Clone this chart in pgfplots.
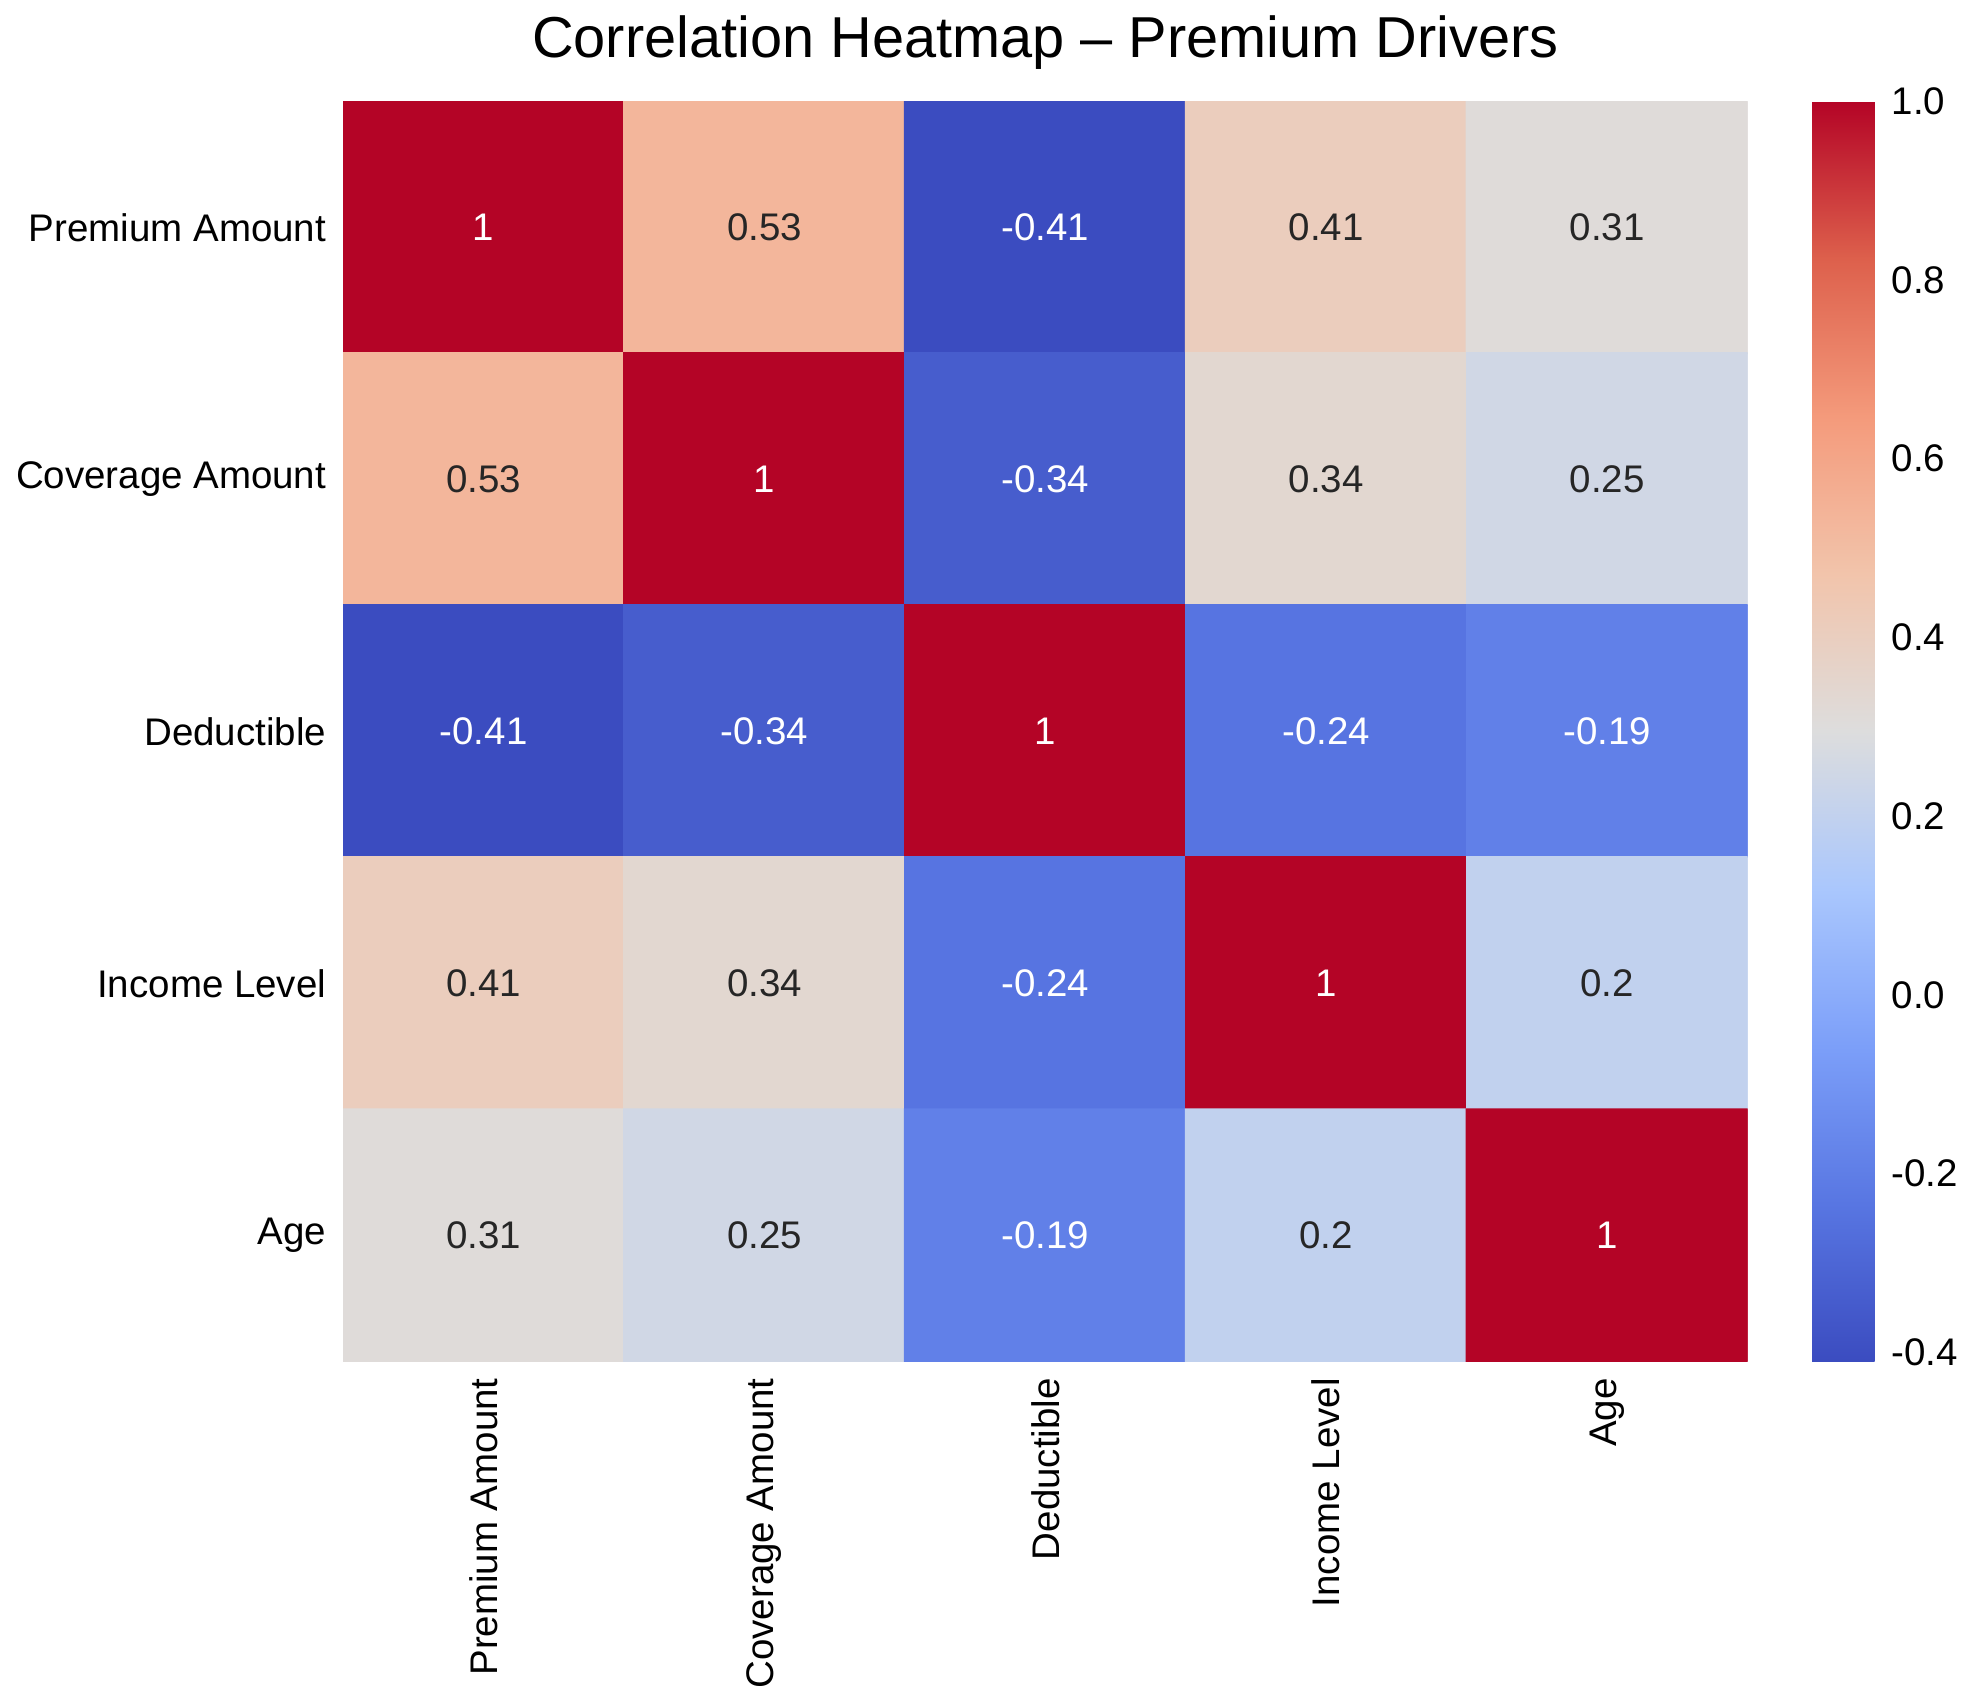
\documentclass[border=0pt]{standalone}
\usepackage{pgfplots}
\pgfplotsset{compat=1.18}
\usepackage{fontspec}
\setmainfont{Liberation Sans}
\begin{document}
\begin{tikzpicture}
\begin{axis}[
  width=292pt, height=262pt, scale only axis,
  xmin=-0.5, xmax=4.5, ymin=-0.5, ymax=4.5, y dir=reverse,
  axis line style={draw=none}, tick style={draw=none},
  xtick={0,...,4}, ytick={0,...,4},
  xticklabels={Premium Amount,Coverage Amount,Deductible,Income Level,Age},
  yticklabels={Premium Amount,Coverage Amount,Deductible,Income Level,Age},
  x tick label style={rotate=90, anchor=east, font=\fontsize{8}{9}\selectfont},
  y tick label style={font=\fontsize{8}{9}\selectfont},
  title={Correlation Heatmap -- Premium Drivers},
  title style={font=\fontsize{12}{14}\selectfont, yshift=-3pt},
  colormap={cw}{rgb255(0)=(59,76,192) rgb255(1)=(88,118,226) rgb255(2)=(124,159,249) rgb255(3)=(170,199,253) rgb255(4)=(221,221,221) rgb255(5)=(242,196,171) rgb255(6)=(244,154,123) rgb255(7)=(221,96,76) rgb255(8)=(180,4,38)},
  point meta min=-0.41, point meta max=1,
  colorbar,
  colorbar style={at={(1.046,1)}, anchor=north west, width=13pt,
    ytick={-0.4,-0.2,0,0.2,0.4,0.6,0.8,1.0},
    /pgf/number format/assume math mode=true,
    yticklabel style={font=\fontsize{8}{9}\selectfont, /pgf/number format/fixed, /pgf/number format/fixed zerofill, /pgf/number format/precision=1, /pgf/number format/assume math mode=true},
    axis line style={draw=none}, major tick length=3pt},
  /pgf/number format/assume math mode=true,
]
\addplot[matrix plot*, mesh/cols=5, point meta=explicit] table[meta=c] {
x y c
0 0 1
1 0 0.53
2 0 -0.41
3 0 0.41
4 0 0.31
0 1 0.53
1 1 1
2 1 -0.34
3 1 0.34
4 1 0.25
0 2 -0.41
1 2 -0.34
2 2 1
3 2 -0.24
4 2 -0.19
0 3 0.41
1 3 0.34
2 3 -0.24
3 3 1
4 3 0.2
0 4 0.31
1 4 0.25
2 4 -0.19
3 4 0.2
4 4 1
};
\addplot[only marks, mark=none, point meta=explicit symbolic,
  nodes near coords, nodes near coords align=center,
  every node near coord/.style={text=white, font=\fontsize{8}{9}\selectfont, anchor=center}]
 table[meta=t] {
x y t
0 0 1
1 1 1
2 2 1
3 3 1
4 4 1
2 0 -0.41
2 1 -0.34
0 2 -0.41
1 2 -0.34
3 2 -0.24
4 2 -0.19
2 3 -0.24
2 4 -0.19
};
\addplot[only marks, mark=none, point meta=explicit symbolic,
  nodes near coords, nodes near coords align=center,
  every node near coord/.style={text=black!85, font=\fontsize{8}{9}\selectfont, anchor=center}]
 table[meta=t] {
x y t
1 0 0.53
3 0 0.41
4 0 0.31
0 1 0.53
3 1 0.34
4 1 0.25
0 3 0.41
1 3 0.34
4 3 0.2
0 4 0.31
1 4 0.25
3 4 0.2
};
\end{axis}
\end{tikzpicture}
\end{document}
